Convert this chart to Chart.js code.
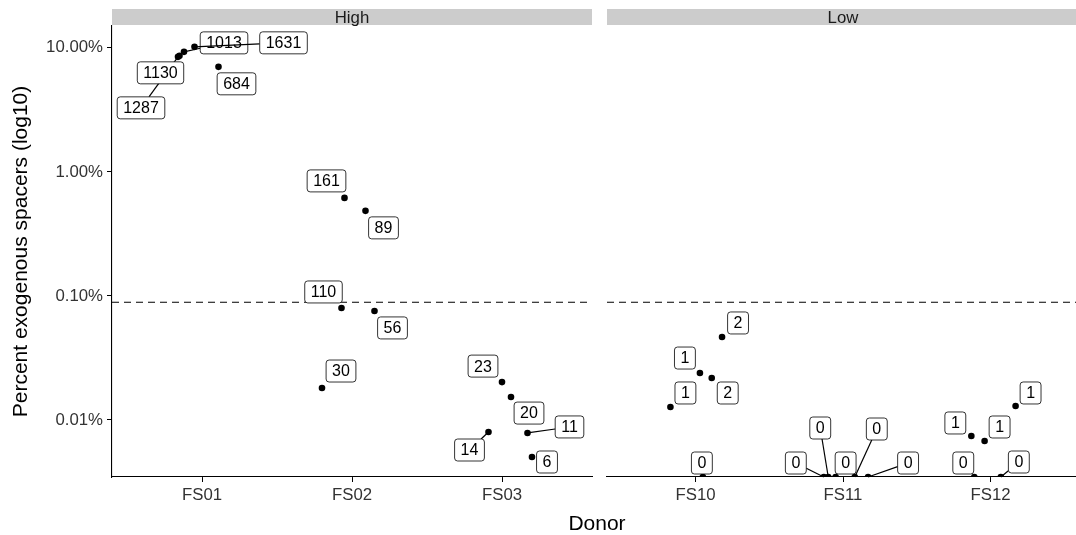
<!DOCTYPE html>
<html>
<head>
<meta charset="utf-8">
<script src="https://cdn.jsdelivr.net/npm/chart.js@4.4.1/dist/chart.umd.min.js"></script>
<style>
  html, body { margin: 0; padding: 0; background: #fff; overflow: hidden; }
  #wrap { position: relative; width: 1076px; height: 535px; overflow: hidden; }
  #high { position: absolute; left: 0; top: 0; }
  #low { position: absolute; left: 603px; top: 0; }
  #xtitle {
    position: absolute; left: 497px; width: 200px; top: 510px;
    text-align: center; font: 21px "Liberation Sans", Arial, Helvetica, sans-serif;
    line-height: 26px; color: #000;
  }
</style>
</head>
<body>
<div id="wrap">
  <canvas id="high" width="600" height="535"></canvas>
  <canvas id="low" width="480" height="535"></canvas>
  <div id="xtitle">Donor</div>
</div>
<script>
// ---- data ----
const highDonors = ['FS01', 'FS02', 'FS03'];
const lowDonors = ['FS10', 'FS11', 'FS12'];
const yTicks = [10, 1, 0.1, 0.01];
const threshold = 0.089; // dashed cut-off, percent

// High group
const highDonor  = [0, 0, 0, 0, 0, 1, 1, 1, 1, 1, 2, 2, 2, 2, 2];
const highJitter = [-0.16, -0.15, -0.12, -0.05, 0.11, -0.05, 0.09, -0.07, 0.15, -0.20, 0.00, 0.06, 0.17, -0.09, 0.20];
const highPercent = [8.46, 8.62, 9.28, 10.19, 7.03, 0.617, 0.485, 0.080, 0.0757, 0.0181, 0.0202, 0.0153, 0.00786, 0.0080, 0.00503];
const highCounts = [1287, 1130, 1013, 1631, 684, 161, 89, 110, 56, 30, 23, 20, 11, 14, 6];

// Low group
const lowDonor  = [0, 0, 0, 0, 0, 1, 1, 1, 1, 1, 2, 2, 2, 2, 2];
const lowJitter = [0.18, 0.03, 0.11, -0.17, 0.05, -0.13, -0.10, -0.05, 0.08, 0.17, 0.17, -0.13, -0.04, -0.11, 0.07];
const lowPercent = [0.0467, 0.0239, 0.0218, 0.01273, 0, 0, 0, 0, 0, 0, 0.01297, 0.00743, 0.00677, 0, 0];
const lowCounts = [2, 1, 2, 1, 0, 0, 0, 0, 0, 0, 1, 1, 1, 0, 0];

// label placement (pixel nudges from the repel layout)
const highNudge = [[-37, 51], [-19, 17], [40, -9], [89, -4], [18, 17], [-18, -17], [18, 17], [-18, -16], [18, 17], [19, -17], [-19, -16], [18, 16], [42, -6], [-19, 18], [15, 5]];
const lowNudge = [[16, -14], [-15, -15], [16, 15], [15, -14], [-1, -14], [-28, -14], [-8, -49], [10, -14], [22, -48], [40, -14], [15, -13], [-16, -13], [15, -14], [-11, -14], [18, -15]];

const yMin = 0.00347, yMax = 15.0;
const FONT = '"Liberation Sans", Arial, Helvetica, sans-serif';
Chart.defaults.font.family = FONT;
Chart.defaults.color = '#333';

function buildPoints(donor, jitter, percent, counts) {
  // zero counts sit on the lower edge of the log axis
  return donor.map((d, i) => ({ x: d + jitter[i], y: Math.max(percent[i], yMin), count: counts[i] }));
}

const stripPlugin = {
  id: 'strip',
  beforeDraw(chart, args, opts) {
    const { ctx, chartArea: a } = chart;
    ctx.save();
    ctx.fillStyle = '#cccccc';
    ctx.fillRect(a.left, 9, a.right - a.left, a.top - 10);
    ctx.fillStyle = '#1a1a1a';
    ctx.font = '16.8px ' + FONT;
    ctx.textAlign = 'center';
    ctx.textBaseline = 'middle';
    ctx.fillText(opts.text, (a.left + a.right) / 2, 18);
    ctx.restore();
  }
};

const thresholdLine = {
  id: 'thresholdLine',
  beforeDatasetsDraw(chart) {
    const { ctx, chartArea: a } = chart;
    const y = chart.scales.y.getPixelForValue(threshold);
    ctx.save();
    ctx.strokeStyle = '#000';
    ctx.lineWidth = 1.1;
    ctx.setLineDash([7, 5]);
    ctx.beginPath();
    ctx.moveTo(a.left, y);
    ctx.lineTo(a.right, y);
    ctx.stroke();
    ctx.restore();
  }
};

function roundRect(ctx, x, y, w, h, r) {
  ctx.beginPath();
  ctx.moveTo(x + r, y);
  ctx.lineTo(x + w - r, y);
  ctx.quadraticCurveTo(x + w, y, x + w, y + r);
  ctx.lineTo(x + w, y + h - r);
  ctx.quadraticCurveTo(x + w, y + h, x + w - r, y + h);
  ctx.lineTo(x + r, y + h);
  ctx.quadraticCurveTo(x, y + h, x, y + h - r);
  ctx.lineTo(x, y + r);
  ctx.quadraticCurveTo(x, y, x + r, y);
  ctx.closePath();
}

const repelLabels = {
  id: 'repelLabels',
  afterDatasetsDraw(chart, args, opts) {
    const ctx = chart.ctx;
    const meta = chart.getDatasetMeta(0);
    const pts = chart.data.datasets[0].data;
    ctx.save();
    ctx.font = '16px ' + FONT;
    ctx.textAlign = 'center';
    ctx.textBaseline = 'middle';
    meta.data.forEach((el, i) => {
      const text = String(pts[i].count);
      const [dx, dy] = opts.nudge[i];
      const cx = el.x + dx, cy = el.y + dy;
      const w = ctx.measureText(text).width + 12, h = 22;
      // segment from point to box edge, only when long enough
      const t = Math.min(dx ? Math.abs(w / 2 / dx) : Infinity, dy ? Math.abs(h / 2 / dy) : Infinity);
      if (t < 1 && (1 - t) * Math.hypot(dx, dy) > 9) {
        ctx.strokeStyle = '#000';
        ctx.lineWidth = 1.2;
        ctx.beginPath();
        ctx.moveTo(el.x, el.y);
        ctx.lineTo(el.x + dx * (1 - t), el.y + dy * (1 - t));
        ctx.stroke();
      }
      roundRect(ctx, cx - w / 2, cy - h / 2, w, h, 3);
      ctx.fillStyle = '#fff';
      ctx.fill();
      ctx.strokeStyle = '#000';
      ctx.lineWidth = 0.8;
      ctx.stroke();
      ctx.fillStyle = '#000';
      ctx.fillText(text, cx, cy + 1);
    });
    ctx.restore();
  }
};

function xScale(donors) {
  return {
    type: 'linear', min: -0.6, max: 2.6,
    afterBuildTicks: s => { s.ticks = donors.map((d, i) => ({ value: i })); },
    afterFit: s => { s.height = 58; },
    ticks: { callback: v => donors[v], autoSkip: false, maxRotation: 0, color: '#333', font: { size: 16.8 }, padding: 3 },
    grid: { drawOnChartArea: false, drawTicks: true, tickLength: 5, color: '#000', tickWidth: 1 },
    border: { color: '#000', width: 1.1 }
  };
}

function makeChart(id, donors, points, nudge, stripText, showY, padRight) {
  return new Chart(document.getElementById(id).getContext('2d'), {
    type: 'scatter',
    data: {
      datasets: [{
        data: points,
        backgroundColor: '#000',
        borderColor: '#000',
        pointRadius: 3.3,
        pointBorderWidth: 0
      }]
    },
    options: {
      responsive: false,
      animation: false,
      events: [],
      layout: { padding: { top: 26, right: padRight, left: 0, bottom: 0 } },
      plugins: {
        legend: { display: false },
        tooltip: { enabled: false },
        strip: { text: stripText },
        repelLabels: { nudge: nudge }
      },
      scales: {
        x: xScale(donors),
        y: {
          type: 'logarithmic', min: yMin, max: yMax,
          display: showY,
          afterBuildTicks: s => { s.ticks = yTicks.map(v => ({ value: v })); },
          afterFit: s => { if (showY) s.width = 112; },
          ticks: { callback: v => v.toFixed(2) + '%', autoSkip: false, color: '#333', font: { size: 16.8 }, padding: 4 },
          grid: { drawOnChartArea: false, tickLength: 5, color: '#000' },
          border: { color: '#000', width: 1.1 },
          title: { display: true, text: 'Percent exogenous spacers (log10)', color: '#000', font: { size: 21 }, padding: { top: 9, bottom: 0 } }
        }
      }
    },
    plugins: [stripPlugin, thresholdLine, repelLabels]
  });
}

makeChart('high', highDonors, buildPoints(highDonor, highJitter, highPercent, highCounts), highNudge, 'High', true, 8);
makeChart('low', lowDonors, buildPoints(lowDonor, lowJitter, lowPercent, lowCounts), lowNudge, 'Low', false, 0);
</script>
</body>
</html>
